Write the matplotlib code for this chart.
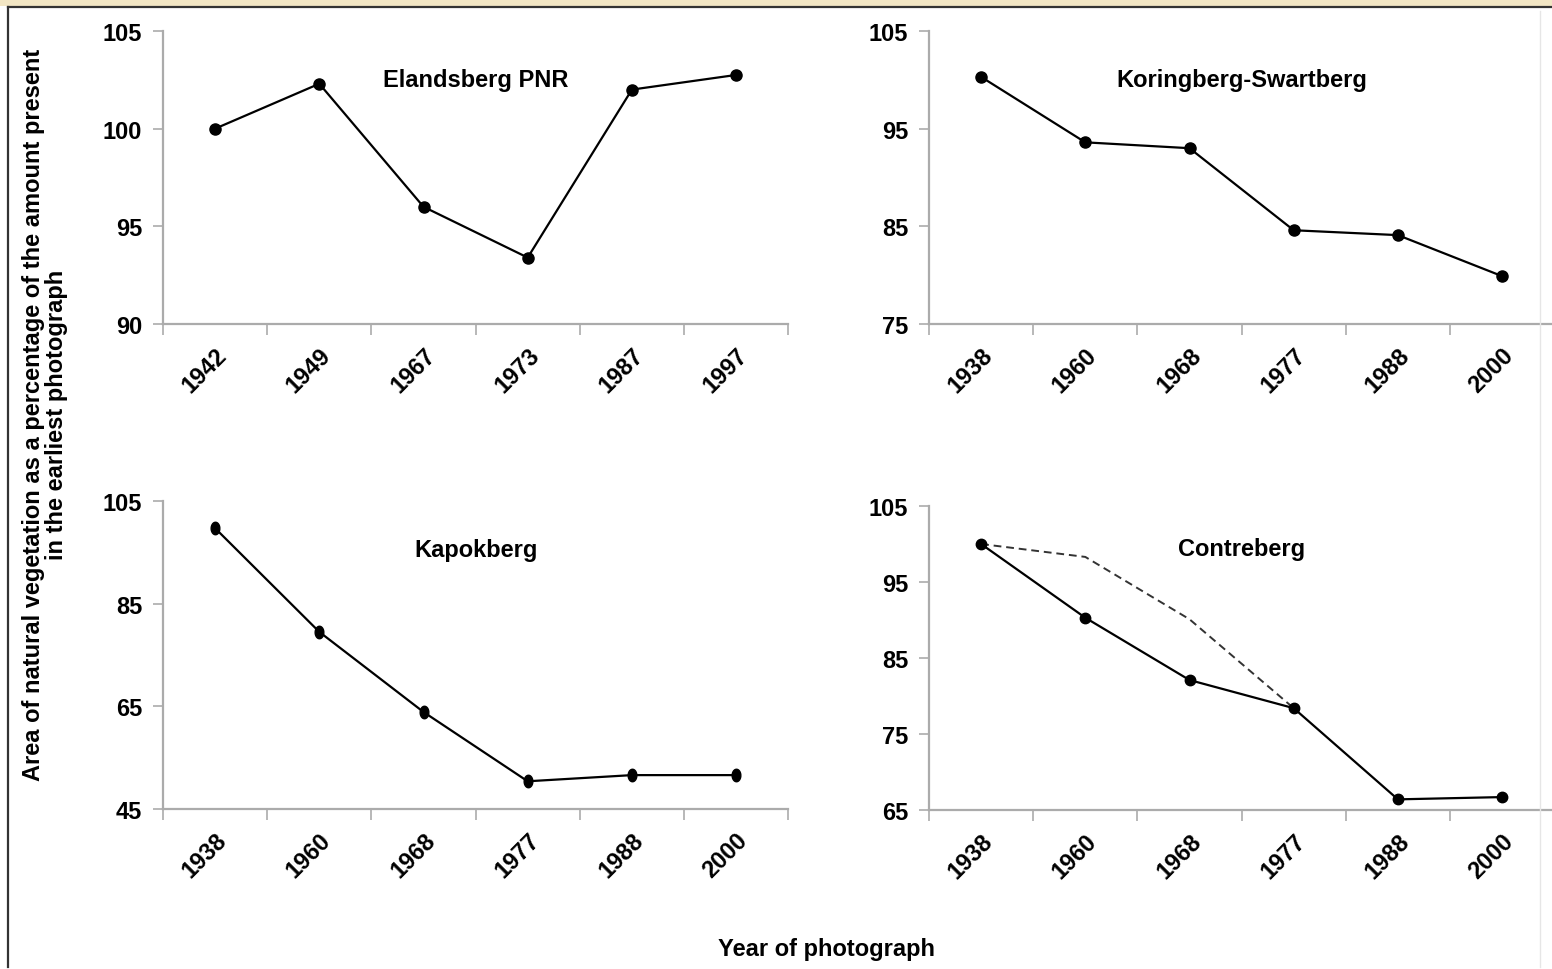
import matplotlib
matplotlib.use("Agg")
import matplotlib.pyplot as plt
import numpy as np
from matplotlib.lines import Line2D
from matplotlib.patches import Rectangle
from matplotlib.path import Path
from matplotlib.transforms import ScaledTranslation

plt.rcParams['font.family'] = ['Liberation Sans', 'DejaVu Sans']
plt.rcParams['font.weight'] = 'bold'

# --- data -------------------------------------------------------------
elandsberg_years = ["1942", "1949", "1967", "1973", "1987", "1997"]
elandsberg_vals = [100.0, 102.3, 96.0, 93.4, 102.0, 102.75]

koringberg_years = ["1938", "1960", "1968", "1977", "1988", "2000"]
koringberg_vals = [100.3, 93.6, 93.0, 84.6, 84.1, 79.9]

kapokberg_years = ["1938", "1960", "1968", "1977", "1988", "2000"]
kapokberg_vals = [99.7, 79.5, 63.9, 50.4, 51.6, 51.6]

contreberg_years = ["1938", "1960", "1968", "1977", "1988", "2000"]
contreberg_vals = [100.0, 90.3, 82.1, 78.4, 66.4, 66.7]
contreberg_alt = [100.0, 98.3, 90.1, 78.4, np.nan, np.nan]

# slightly tall oval marker used on the Kapokberg panel
_t = np.linspace(0, 2 * np.pi, 40)
tall_dot = Path(np.column_stack([0.8 * np.cos(_t), 1.15 * np.sin(_t)]))

panels = [
    dict(title="Elandsberg PNR", years=elandsberg_years, vals=elandsberg_vals,
         ylim=(90, 105), yticks=[90, 95, 100, 105], ty=0.836, marker="o", ms=8,
         xshift=-9),
    dict(title="Koringberg-Swartberg", years=koringberg_years, vals=koringberg_vals,
         ylim=(75, 105), yticks=[75, 85, 95, 105], ty=0.836, marker="o", ms=8,
         xshift=0),
    dict(title="Kapokberg", years=kapokberg_years, vals=kapokberg_vals,
         ylim=(45, 105), yticks=[45, 65, 85, 105], ty=0.844, marker=tall_dot, ms=9,
         xshift=0),
    dict(title="Contreberg", years=contreberg_years, vals=contreberg_vals,
         ylim=(65, 105), yticks=[65, 75, 85, 95, 105], ty=0.859, marker="o", ms=7.5,
         xshift=0, alt=contreberg_alt),
]

W, H = 1552, 970
fig = plt.figure(figsize=(W / 100, H / 100), dpi=100)
fig.patch.set_facecolor("white")


def fx(px):
    return px / W


def fy(py):
    return 1 - py / H


band = 104.2
boxes = [
    (163, 32, 325),
    (929, 32, 325),
    (163, 502, 810),
    (929, 507, 811),
]

axis_col = "#ababab"
FS = 17

for p, (left, top, bottom) in zip(panels, boxes):
    right = left + 6 * band
    ax = fig.add_axes([fx(left), fy(bottom), fx(right) - fx(left), fy(top) - fy(bottom)])
    ax.set_facecolor("none")
    x = np.arange(1, len(p["years"]) + 1)
    if "alt" in p:
        ax.plot(x, p["alt"], color="#333333", lw=1.4, ls=(0, (4, 2.5)), zorder=2)
    ax.plot(x, p["vals"], color="black", lw=1.6, marker=p["marker"], ms=p["ms"],
            mfc="black", mec="black", zorder=3)
    ax.set_xlim(0.5, len(x) + 0.5)
    ax.set_ylim(*p["ylim"])
    ax.set_yticks(p["yticks"])
    ax.set_yticklabels([str(t) for t in p["yticks"]], fontsize=FS, fontweight="bold")
    ax.set_xticks(x)
    ax.set_xticklabels(p["years"], rotation=45, ha="right", va="top",
                       rotation_mode="anchor", fontsize=FS, fontweight="bold")
    if p["xshift"]:
        off = ScaledTranslation(p["xshift"] / 100, 0, fig.dpi_scale_trans)
        for lab in ax.get_xticklabels():
            lab.set_transform(lab.get_transform() + off)
    ax.set_xticks(np.arange(0.5, len(x) + 1, 1.0), minor=True)
    ax.tick_params(axis="x", which="major", length=0, pad=14)
    ax.tick_params(axis="x", which="minor", length=8, color=axis_col, width=1.2)
    ax.tick_params(axis="y", length=7, color=axis_col, width=1.2, pad=8)
    for s in ("top", "right"):
        ax.spines[s].set_visible(False)
    for s in ("left", "bottom"):
        ax.spines[s].set_color(axis_col)
        ax.spines[s].set_linewidth(1.6)
    ax.text(0.5, p["ty"], p["title"], transform=ax.transAxes, ha="center",
            va="center", fontsize=FS, fontweight="bold")

# shared axis labels
fig.text(fx(45), fy(415),
         "Area of natural vegetation as a percentage of the amount present\n"
         "in the earliest photograph",
         rotation=90, ha="center", va="center", fontsize=FS, fontweight="bold",
         linespacing=1.05)
fig.text(fx(827), fy(950), "Year of photograph", ha="center", va="center",
         fontsize=FS, fontweight="bold")

# frame around the figure and the tinted band above it
fig.add_artist(Rectangle((0, fy(7)), 1, 1 - fy(7), transform=fig.transFigure,
                         facecolor="#f2e6c4", edgecolor="none", zorder=0))
fig.add_artist(Line2D([fx(8), fx(8)], [fy(968), fy(8)], transform=fig.transFigure,
                      color="#333333", lw=1.6))
fig.add_artist(Line2D([fx(8), fx(1552)], [fy(8), fy(8)], transform=fig.transFigure,
                      color="#333333", lw=1.6))
fig.add_artist(Line2D([fx(1540), fx(1540)], [fy(968), fy(12)], transform=fig.transFigure,
                      color="#e6e6e6", lw=1.0))

fig.savefig("out.png", dpi=100)
